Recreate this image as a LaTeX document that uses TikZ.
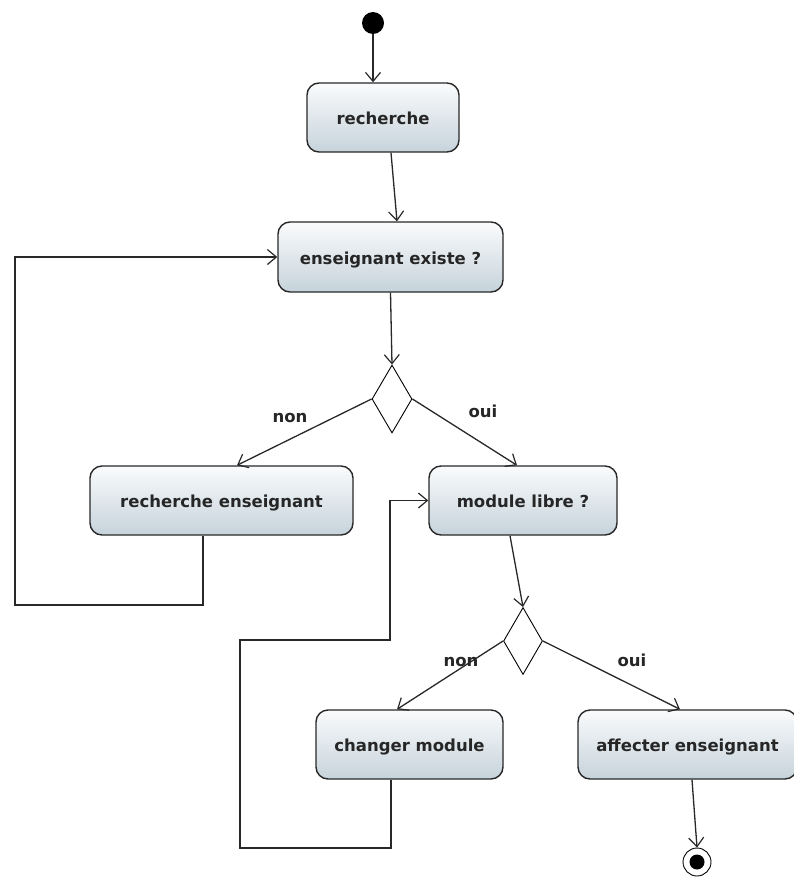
\documentclass[tikz,border=0pt]{standalone}
\usepackage{fontspec}
\setmainfont{DejaVu Sans}
\usetikzlibrary{shapes.geometric,arrows.meta,calc}
\definecolor{boxtop}{RGB}{250,251,252}
\definecolor{boxbot}{RGB}{198,211,219}
\definecolor{edge}{RGB}{40,40,40}
\tikzset{
  activity/.style={draw=edge, line width=1.4pt, rounded corners=12pt,
    top color=boxtop, bottom color=boxbot, inner sep=0pt,
    text height=14pt, text depth=0pt,
    font=\fontsize{16.5}{19}\selectfont\bfseries, text=black!85},
  decision/.style={draw=black, line width=0.9pt, shape=diamond, fill=white,
    inner sep=0pt},
  flow/.style={draw=edge, line width=1.3pt,
    -{Straight Barb[length=9pt,width=15pt,line width=1.2pt]}},
  guard/.style={font=\fontsize{16.5}{19}\selectfont\bfseries, text=black!85},
}
\begin{document}
\begin{tikzpicture}[x=1pt,y=-1pt]
\useasboundingbox (0,0) rectangle (793,878);

% start and end points
\node[circle, fill=black, minimum size=22pt, inner sep=0pt] (start) at (373,23) {};
\node[circle, draw=black, line width=0.9pt, fill=white, minimum size=28pt, inner sep=0pt] (end) at (697,862) {};
\node[circle, fill=black, minimum size=15pt, inner sep=0pt] at (end.center) {};

% activities
\node[activity, minimum width=152pt, minimum height=69pt] (rech) at (383,117.5) {recherche};
\node[activity, minimum width=225pt, minimum height=70pt] (ens) at (390.5,257) {enseignant existe ?};
\node[activity, minimum width=263pt, minimum height=69pt] (rens) at (221.5,500.5) {recherche enseignant};
\node[activity, minimum width=188pt, minimum height=69pt] (ml) at (523,500.5) {module libre ?};
\node[activity, minimum width=187pt, minimum height=69pt] (cm) at (409.5,744.5) {changer module};
\node[activity, minimum width=219pt, minimum height=69pt] (aff) at (687.5,744.5) {affecter enseignant};

% decisions
\node[decision, minimum width=40pt, minimum height=68pt] (d1) at (392,399) {};
\node[decision, minimum width=39pt, minimum height=67pt] (d2) at (523,641) {};

% guard labels
\node[guard] at (290,418) {non};
\node[guard] at (483,411) {oui};
\node[guard] at (461,662) {non};
\node[guard] at (632,660) {oui};

% loop corners
\coordinate (c1) at (15,605);
\coordinate (c2) at (240,848);
\coordinate (c3) at (390,640);

% transitions
\draw[flow] (start) -- ([xshift=-10pt]rech.north);
\draw[flow] ([xshift=8pt]rech.south) -- ([xshift=6.5pt]ens.north);
\draw[flow] (ens.south) -- (d1.north);
\draw[flow] (d1.west) -- ([xshift=15.5pt]rens.north);
\draw[flow] (d1.east) -- ([xshift=-6pt]ml.north);
\draw[flow] ([xshift=-18.5pt]rens.south) |- (c1) |- (ens.west);
\draw[flow] ([xshift=-13pt]ml.south) -- (d2.north);
\draw[flow] (d2.west) -- ([xshift=-12.5pt]cm.north);
\draw[flow] (d2.east) -- ([xshift=-7.5pt]aff.north);
\draw[flow] ([xshift=-18.5pt]cm.south) |- (c2) |- (c3) |- (ml.west);
\draw[flow] ([xshift=4.5pt]aff.south) -- (end.north);
\end{tikzpicture}
\end{document}
